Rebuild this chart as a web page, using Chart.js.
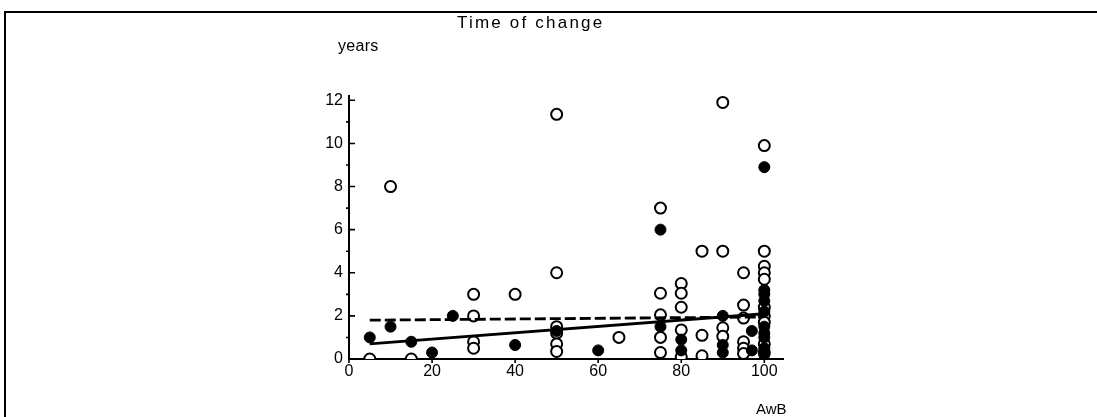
<!DOCTYPE html>
<html>
<head>
<meta charset="utf-8">
<script src="https://cdn.jsdelivr.net/npm/chart.js@4/dist/chart.umd.min.js"></script>
<style>
  html, body { margin: 0; padding: 0; background: #fff; }
  body { width: 1097px; height: 417px; position: relative; overflow: hidden; font-family: "Liberation Sans", Arial, sans-serif; color: #000; }
  #frame { position: absolute; left: 4px; top: 11px; width: 1100px; height: 420px; border-left: 2px solid #000; border-top: 2px solid #000; }
  canvas { position: absolute; left: 0; top: 0; }
  .lbl { position: absolute; white-space: nowrap; color: #000; }
  #title { left: 457px; top: 13px; font-size: 17px; letter-spacing: 2.2px; }
  #ylab { left: 338px; top: 37px; font-size: 16px; letter-spacing: 0.3px; }
  #xlab { left: 756px; top: 400px; font-size: 15px; }
</style>
</head>
<body>
<div id="frame"></div>
<canvas id="c" width="1097" height="417"></canvas>
<div class="lbl" id="title">Time of change</div>
<div class="lbl" id="ylab">years</div>
<div class="lbl" id="xlab">AwB</div>
<script>
// Tick labels
const xTicks = [0, 20, 40, 60, 80, 100];
const yTicks = [0, 2, 4, 6, 8, 10, 12];
const yMinorTicks = [1, 3, 5, 7, 9, 11];

// Open circles (AwB %, years)
const openX = [5, 10, 15, 30, 30, 30, 30, 40, 50, 50, 50, 50, 50, 50, 65,
  75, 75, 75, 75, 75, 80, 80, 80, 80, 80, 85, 85, 85,
  90, 90, 90, 90, 95, 95, 95, 95, 95, 95,
  100, 100, 100, 100, 100, 100, 100, 100, 100, 100];
const openY = [0, 8, 0, 3, 2, 0.8, 0.5, 3, 11.35, 4, 1.5, 1.2, 0.7, 0.35, 1.0,
  7, 3.05, 2.05, 1.0, 0.3, 3.5, 3.05, 2.4, 1.35, 0.1, 5, 1.1, 0.15,
  11.9, 5, 1.45, 1.05, 4.0, 2.5, 1.9, 0.8, 0.5, 0.25,
  9.9, 5.0, 4.3, 4.0, 3.7, 2.4, 2.0, 1.7, 0.7, 0.3];

// Filled circles (AwB %, years)
const filledX = [5, 10, 15, 20, 25, 40, 50, 60, 75, 75, 80, 80, 90, 90, 90, 97, 97,
  100, 100, 100, 100, 100, 100, 100, 100, 100, 100];
const filledY = [1.0, 1.5, 0.8, 0.3, 2.0, 0.65, 1.3, 0.4, 6.0, 1.5, 0.9, 0.4, 2.0, 0.65, 0.3, 1.3, 0.4,
  8.9, 3.2, 3.0, 2.7, 2.2, 1.5, 1.2, 1.0, 0.5, 0.2];

// Fitted lines (endpoints)
const solidLineX = [5, 100];
const solidLineY = [0.7, 2.1];
const dashedLineX = [5, 100];
const dashedLineY = [1.8, 1.95];

const pts = (xs, ys) => xs.map((x, i) => ({ x: x, y: ys[i] }));

const tickMarks = {
  id: 'tickMarks',
  afterDatasetsDraw(chart) {
    const ctx = chart.ctx;
    const xs = chart.scales.x, ys = chart.scales.y;
    const left = chart.chartArea.left, bottom = chart.chartArea.bottom;
    ctx.save();
    ctx.strokeStyle = '#000';
    ctx.lineWidth = 1.6;
    ctx.beginPath();
    yTicks.forEach(v => { const p = ys.getPixelForValue(v); ctx.moveTo(left, p); ctx.lineTo(left + 6, p); });
    yMinorTicks.forEach(v => { const p = ys.getPixelForValue(v); ctx.moveTo(left - 3, p); ctx.lineTo(left, p); });
    xTicks.forEach(v => { const p = xs.getPixelForValue(v); ctx.moveTo(p, bottom); ctx.lineTo(p, bottom + 4); });
    ctx.stroke();
    ctx.restore();
  }
};

const tickFont = { family: '"Liberation Sans", Arial, sans-serif', size: 16 };

new Chart(document.getElementById('c'), {
  type: 'scatter',
  data: {
    datasets: [
      { data: pts(solidLineX, solidLineY), showLine: true, borderColor: '#000', borderWidth: 2.8, pointRadius: 0, fill: false },
      { data: pts(dashedLineX, dashedLineY), showLine: true, borderColor: '#000', borderWidth: 2.8, borderDash: [11, 4], pointRadius: 0, fill: false },
      { data: pts(filledX, filledY), pointRadius: 5.5, pointBackgroundColor: '#000', pointBorderColor: '#000', pointBorderWidth: 1, clip: { left: 10, top: 10, right: 10, bottom: 0 } },
      { data: pts(openX, openY), pointRadius: 5.5, pointBackgroundColor: '#fff', pointBorderColor: '#000', pointBorderWidth: 2, clip: { left: 10, top: 10, right: 10, bottom: 0 } }
    ]
  },
  options: {
    responsive: false,
    animation: false,
    events: [],
    layout: { padding: { left: 0, top: 96, right: 314, bottom: 18 } },
    plugins: { legend: { display: false }, tooltip: { enabled: false }, title: { display: false } },
    scales: {
      x: {
        type: 'linear', min: 0, max: 104.5,
        afterBuildTicks: s => { s.ticks = xTicks.map(v => ({ value: v })); },
        afterFit: s => { s.height = 40; },
        grid: { display: false, drawTicks: false },
        border: { display: true, color: '#000', width: 2 },
        ticks: { color: '#000', font: tickFont, padding: 3, maxRotation: 0, autoSkip: false }
      },
      y: {
        type: 'linear', min: 0, max: 12.2,
        afterBuildTicks: s => { s.ticks = yTicks.map(v => ({ value: v })); },
        afterFit: s => { s.width = 349; },
        grid: { display: false, drawTicks: false },
        border: { display: true, color: '#000', width: 2 },
        ticks: { color: '#000', font: tickFont, padding: 6, autoSkip: false }
      }
    }
  },
  plugins: [tickMarks]
});
</script>
</body>
</html>
